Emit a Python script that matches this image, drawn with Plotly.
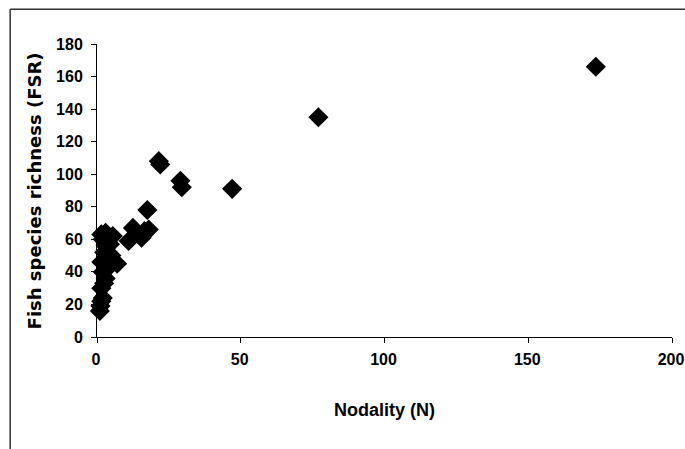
import plotly.graph_objects as go

# Nodality (N) and fish species richness (FSR) per site
nodality = [1.0, 1.2, 1.5, 2.0, 1.5, 2.5, 3.0, 2.0, 3.5, 1.5, 4.0, 2.5, 5.0, 7.0,
            3.0, 2.0, 3.0, 5.5, 4.5, 1.5,
            11.0, 12.5, 15.5, 16.5, 17.5, 18.0, 21.5, 22.0, 29.0, 29.5, 47.0, 77.0, 173.5]
richness = [16, 19, 22, 24, 30, 33, 36, 40, 42, 46, 48, 52, 50, 45,
            56, 60, 64, 62, 57, 63,
            59, 67, 61, 65, 78, 66, 108, 106, 96, 92, 91, 135, 166]

x_ticks = [0, 50, 100, 150, 200]
y_ticks = [0, 20, 40, 60, 80, 100, 120, 140, 160, 180]

label_font = "Liberation Sans Narrow, Arial Narrow, Liberation Sans, Arial, sans-serif"

fig = go.Figure(
    go.Scatter(
        x=nodality,
        y=richness,
        mode="markers",
        marker=dict(symbol="diamond", size=15.5, color="black", line=dict(width=0)),
        cliponaxis=False,
        showlegend=False,
    )
)

axis_common = dict(
    ticks="outside",
    ticklen=5,
    tickcolor="black",
    showline=True,
    linecolor="black",
    linewidth=1,
    showgrid=False,
    zeroline=False,
    automargin=False,
    tickfont=dict(family=label_font, size=16, color="black", weight="bold"),
)

fig.update_layout(
    width=685,
    height=449,
    paper_bgcolor="white",
    plot_bgcolor="white",
    margin=dict(l=97, r=13, t=44, b=112),
    xaxis=dict(
        range=[0, 200],
        tickvals=x_ticks,
        ticklabeloverflow="allow",
        ticklabelshift=-1,
        ticklabelstandoff=3,
        title=dict(text="Nodality (N)", standoff=36,
                   font=dict(family=label_font, size=18, color="black", weight="bold")),
        **axis_common,
    ),
    yaxis=dict(
        range=[0, 180],
        tickvals=y_ticks,
        ticklabelstandoff=5,
        **axis_common,
    ),
    annotations=[
        dict(text="Fish species richness (FSR)", textangle=-90,
             xref="paper", yref="paper", x=-0.108, y=0.5,
             xanchor="center", yanchor="middle", showarrow=False,
             font=dict(family="DejaVu Sans, sans-serif", size=18, color="black", weight="bold")),
    ],
    shapes=[
        # outer frame: top edge and left edge
        dict(type="line", xref="paper", yref="paper", x0=-0.151, x1=1.03, y0=1.119, y1=1.119,
             line=dict(color="#333333", width=1.5)),
        dict(type="line", xref="paper", yref="paper", x0=-0.151, x1=-0.151, y0=1.119, y1=-0.39,
             line=dict(color="#333333", width=1.5)),
    ],
)

fig.write_html("out.html")
